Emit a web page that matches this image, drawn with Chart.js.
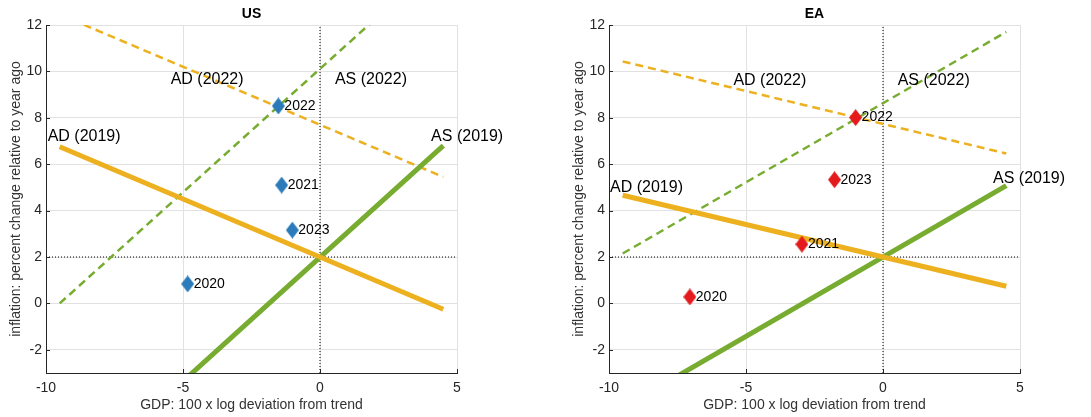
<!DOCTYPE html>
<html>
<head>
<meta charset="utf-8">
<script src="https://cdn.jsdelivr.net/npm/chart.js@4.4.0/dist/chart.umd.min.js"></script>
<style>
  html, body { margin: 0; padding: 0; background: #fff; }
  canvas { position: absolute; top: 0; }
</style>
</head>
<body>
<canvas id="us" width="545" height="417" style="left:0"></canvas>
<canvas id="ea" width="545" height="417" style="left:546px"></canvas>
<script>
// x ends of the AD / AS lines, ticks
const lineX = [-9.5, 4.5];
const xTicks = [-10, -5, 0, 5];
const yTicks = [-2, 0, 2, 4, 6, 8, 10, 12];
const years = ['2020', '2021', '2022', '2023'];

// US
const usGdp = [-4.83, -1.40, -1.52, -1.01];
const usInflation = [0.84, 5.10, 8.51, 3.16];
const usAd2019 = [6.75, -0.25];
const usAs2019 = [-8.17, 6.8];
const usAd2022 = [12.45, 5.45];
const usAs2022 = [0.0, 14.9];

// EA
const eaGdp = [-7.05, -2.96, -1.0, -1.77];
const eaInflation = [0.28, 2.55, 8.01, 5.33];
const eaAd2019 = [4.66, 0.74];
const eaAs2019 = [-4.5, 5.08];
const eaAd2022 = [10.43, 6.46];
const eaAs2022 = [2.15, 11.7];

const curveNames = ['AD (2019)', 'AS (2019)', 'AD (2022)', 'AS (2022)'];
const usNameX = [-8.61, 5.37, -4.12, 1.86];
const usNameY = [7.17, 7.17, 9.63, 9.63];
const eaNameX = [-8.63, 5.33, -4.13, 1.85];
const eaNameY = [4.99, 5.38, 9.62, 9.62];

const YELLOW = '#EDB120';
const GREEN = '#77AC30';
const FONT = '"Liberation Sans", Arial, Helvetica, sans-serif';

const diamond = color => {
  const c = document.createElement('canvas');
  c.width = 13;
  c.height = 17;
  const g = c.getContext('2d');
  g.fillStyle = color;
  g.beginPath();
  g.moveTo(6.5, 0);
  g.lineTo(13, 8.5);
  g.lineTo(6.5, 17);
  g.lineTo(0, 8.5);
  g.closePath();
  g.fill();
  return c;
};

const pts = (xs, ys) => xs.map((x, i) => ({ x, y: ys[i] }));

const annotate = {
  id: 'annotate',
  afterDatasetsDraw(chart, args, opts) {
    const { ctx, chartArea: a } = chart;
    const { x, y } = chart.scales;
    ctx.save();

    // inward tick marks
    ctx.strokeStyle = '#262626';
    ctx.lineWidth = 1;
    ctx.beginPath();
    y.ticks.forEach(t => {
      const py = Math.round(y.getPixelForValue(t.value)) + 0.5;
      ctx.moveTo(a.left, py);
      ctx.lineTo(a.left + 4, py);
    });
    x.ticks.forEach(t => {
      const px = Math.round(x.getPixelForValue(t.value)) + 0.5;
      ctx.moveTo(px, a.bottom);
      ctx.lineTo(px, a.bottom - 4);
    });
    ctx.stroke();

    // year labels next to the diamonds
    const meta = chart.getDatasetMeta(0);
    ctx.fillStyle = '#000';
    ctx.font = '14px ' + FONT;
    ctx.textAlign = 'left';
    ctx.textBaseline = 'middle';
    meta.data.forEach((el, i) => ctx.fillText(years[i], el.x + 6, el.y));

    // curve names
    ctx.font = '16px ' + FONT;
    ctx.textAlign = 'center';
    curveNames.forEach((name, i) => {
      ctx.fillText(name, x.getPixelForValue(opts.nameX[i]), y.getPixelForValue(opts.nameY[i]));
    });
    ctx.restore();
  }
};

const makePanel = (id, cfg) => new Chart(document.getElementById(id), {
  type: 'line',
  data: {
    datasets: [
      {
        data: pts(cfg.gdp, cfg.inflation),
        showLine: false,
        pointStyle: diamond(cfg.color),
        pointRadius: 8,
        order: 0
      },
      { data: pts(lineX, cfg.ad2019), borderColor: YELLOW, borderWidth: 5, order: 1 },
      { data: pts(lineX, cfg.as2019), borderColor: GREEN, borderWidth: 5, order: 1 },
      { data: pts(lineX, cfg.ad2022), borderColor: YELLOW, borderWidth: 2.5, borderDash: [8, 5], order: 2 },
      { data: pts(lineX, cfg.as2022), borderColor: GREEN, borderWidth: 2.5, borderDash: [8, 5], order: 2 },
      { data: pts([0, 0], [-3, 12]), borderColor: '#000', borderWidth: 1, borderDash: [1, 2], order: 3 },
      { data: pts([-10, 5], [2, 2]), borderColor: '#000', borderWidth: 1, borderDash: [1, 2], order: 3 }
    ].map(d => Object.assign({ pointRadius: 0, fill: false, clip: 0, borderCapStyle: 'butt' }, d))
  },
  options: {
    responsive: false,
    animation: false,
    devicePixelRatio: 1,
    layout: { padding: { left: 0, right: cfg.rightPad, top: 0, bottom: 0 } },
    plugins: {
      legend: { display: false },
      tooltip: { enabled: false },
      title: {
        display: true,
        text: cfg.title,
        fullSize: false,
        color: '#000',
        font: { family: FONT, size: 14, weight: 'bold' },
        padding: { top: 6, bottom: 2.2 }
      },
      annotate: { nameX: cfg.nameX, nameY: cfg.nameY }
    },
    scales: {
      x: {
        type: 'linear',
        min: -10,
        max: 5,
        afterBuildTicks: s => { s.ticks = xTicks.map(value => ({ value })); },
        afterFit: s => { s.height = 44; },
        grid: { color: '#e1e1e1', drawTicks: false },
        border: { color: '#262626', width: 1 },
        ticks: { color: '#262626', font: { family: FONT, size: 14 }, padding: 7 },
        title: {
          display: true,
          text: 'GDP: 100 x log deviation from trend',
          color: '#333',
          font: { family: FONT, size: 14 },
          padding: { top: 0, bottom: 3.6 }
        }
      },
      y: {
        type: 'linear',
        min: -3,
        max: 12,
        afterBuildTicks: s => { s.ticks = yTicks.map(value => ({ value })); },
        afterFit: s => { s.width = cfg.yWidth; },
        grid: { color: '#e1e1e1', drawTicks: false },
        border: { color: '#262626', width: 1 },
        ticks: { color: '#262626', font: { family: FONT, size: 14 }, padding: 4 },
        title: {
          display: true,
          text: 'inflation: percent change relative to year ago',
          color: '#333',
          font: { family: FONT, size: 14 },
          padding: { top: cfg.yTitlePad, bottom: 0 }
        }
      }
    }
  },
  plugins: [annotate]
});

makePanel('us', {
  title: 'US', color: '#2B7BBA',
  gdp: usGdp, inflation: usInflation,
  ad2019: usAd2019, as2019: usAs2019, ad2022: usAd2022, as2022: usAs2022,
  nameX: usNameX, nameY: usNameY,
  yWidth: 46, yTitlePad: 7.6, rightPad: 88
});

makePanel('ea', {
  title: 'EA', color: '#E41A1C',
  gdp: eaGdp, inflation: eaInflation,
  ad2019: eaAd2019, as2019: eaAs2019, ad2022: eaAd2022, as2022: eaAs2022,
  nameX: eaNameX, nameY: eaNameY,
  yWidth: 63, yTitlePad: 24.3, rightPad: 71
});
</script>
</body>
</html>
